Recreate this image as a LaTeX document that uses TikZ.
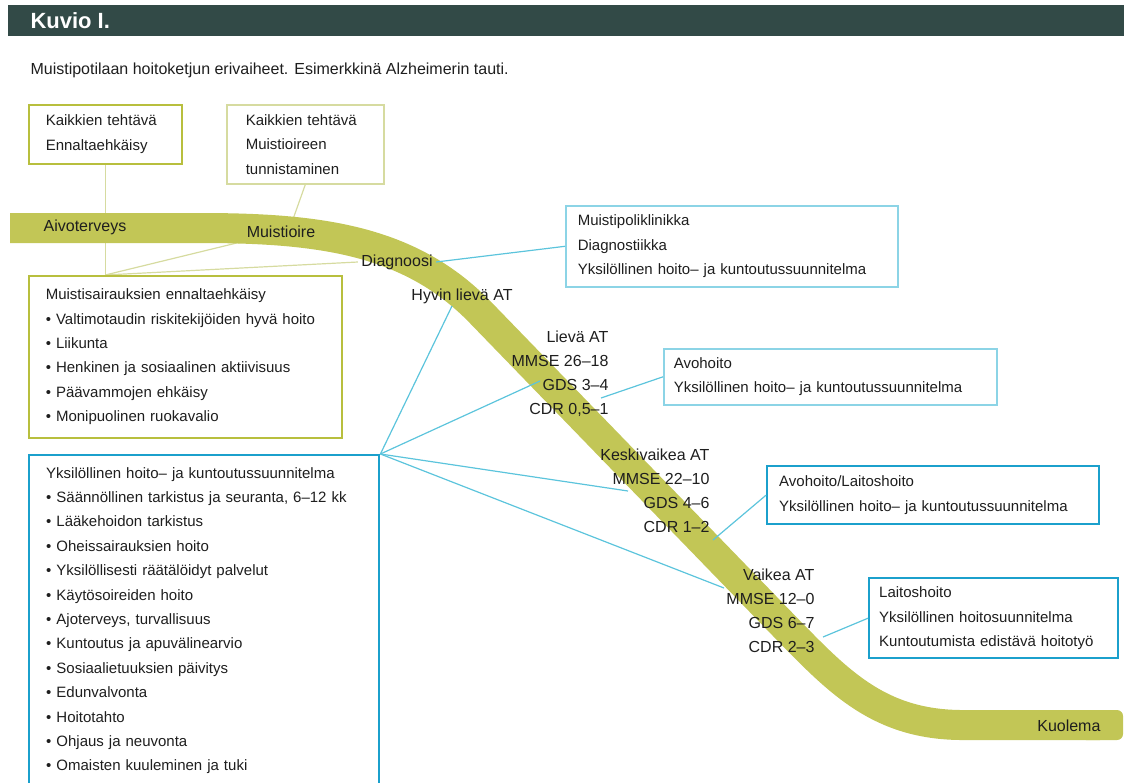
\documentclass[tikz,border=0pt]{standalone}
\usepackage{fontspec}
\setmainfont{Liberation Sans}
\usetikzlibrary{backgrounds}
\definecolor{hdr}{RGB}{50,74,71}
\definecolor{bandc}{RGB}{194,198,86}
\definecolor{oline}{RGB}{184,191,62}
\definecolor{olight}{RGB}{214,219,160}
\definecolor{bthin}{RGB}{140,212,230}
\definecolor{bthick}{RGB}{27,160,204}
\definecolor{bconnc}{RGB}{92,196,220}
\definecolor{txt}{RGB}{30,30,30}
\begin{document}
\begin{tikzpicture}[x=1pt,y=-1pt,
    every node/.style={font=\fontsize{15}{24.4}\selectfont,text=txt},
    obox/.style={draw=oline,line width=1.6pt,align=left,anchor=north west,inner ysep=8pt},
    bbox/.style={draw=bthin,line width=1.6pt,align=left,anchor=north west,inner ysep=8pt},
    bbbox/.style={draw=bthick,line width=2.4pt,align=left,anchor=north west,inner ysep=8pt},
    onband/.style={font=\fontsize{16}{20}\selectfont},
    stage/.style={align=right,anchor=east,font=\fontsize{16}{24}\selectfont},
    oconn/.style={draw=olight,line width=1.2pt},
    bconn/.style={draw=bconnc,line width=1.2pt}]
    \useasboundingbox (0,0) rectangle (1124,782);
    \clip (0,0) rectangle (1124,782);

    \fill[hdr] (8,5) rectangle (1124,36);
    \node[anchor=west,text=white,font=\fontsize{22}{24}\selectfont\bfseries] (title) at (27,21) {Kuvio I.};
    \node[anchor=west,font=\fontsize{16}{20}\selectfont] (sub) at (27,70) {Muistipotilaan hoitoketjun erivaiheet. Esimerkkinä Alzheimerin tauti.};

    \node[obox,inner xsep=17pt,text width=119pt,minimum height=59pt] (kaik1) at (28,104) {Kaikkien tehtävä\\Ennaltaehkäisy};
    \node[obox,draw=olight,inner xsep=19pt,text width=119pt,minimum height=79pt] (tunn) at (226,104) {Kaikkien tehtävä\\Muistioireen\\tunnistaminen};
    \node[obox,inner xsep=17pt,text width=279pt,minimum height=162pt] (ehk) at (28,275) {Muistisairauksien ennaltaehkäisy\\
        • Valtimotaudin riskitekijöiden hyvä hoito\\
        • Liikunta\\
        • Henkinen ja sosiaalinen aktiivisuus\\
        • Päävammojen ehkäisy\\
        • Monipuolinen ruokavalio};

    \node[bbox,inner xsep=12pt,text width=308pt,minimum height=81pt] (poli) at (565,205) {Muistipoliklinikka\\Diagnostiikka\\Yksilöllinen hoito– ja kuntoutussuunnitelma};
    \node[bbox,inner xsep=10pt,text width=313pt,minimum height=56pt] (avo) at (663,348) {Avohoito\\Yksilöllinen hoito– ja kuntoutussuunnitelma};
    \node[bbbox,inner xsep=12pt,text width=308pt,minimum height=58pt] (avolait) at (766,465) {Avohoito/Laitoshoito\\Yksilöllinen hoito– ja kuntoutussuunnitelma};
    \node[bbbox,inner xsep=10pt,text width=229pt,minimum height=80pt] (laitos) at (868,577) {Laitoshoito\\Yksilöllinen hoitosuunnitelma\\Kuntoutumista edistävä hoitotyö};
    \node[bbbox,inner xsep=17pt,inner ysep=12pt,text width=316pt] (yks) at (28,454) {Yksilöllinen hoito– ja kuntoutussuunnitelma\\
        • Säännöllinen tarkistus ja seuranta, 6–12 kk\\
        • Lääkehoidon tarkistus\\
        • Oheissairauksien hoito\\
        • Yksilöllisesti räätälöidyt palvelut\\
        • Käytösoireiden hoito\\
        • Ajoterveys, turvallisuus\\
        • Kuntoutus ja apuvälinearvio\\
        • Sosiaalietuuksien päivitys\\
        • Edunvalvonta\\
        • Hoitotahto\\
        • Ohjaus ja neuvonta\\
        • Omaisten kuuleminen ja tuki};

    \node[onband] (aivo) at (85,227) {Aivoterveys};
    \node[onband] (muistioire) at (281,232) {Muistioire};
    \node[onband] (diagnoosi) at (397,262) {Diagnoosi};
    \node[onband] (hyvin) at (462,296) {Hyvin lievä AT};
    \node[onband,anchor=east] (kuolema) at (1104,726) {Kuolema};

    \node[stage] (lieva) at (612,374) {Lievä AT\\MMSE 26–18\\GDS 3–4\\CDR 0,5–1};
    \node[stage] (keski) at (713,491) {Keskivaikea AT\\MMSE 22–10\\GDS 4–6\\CDR 1–2};
    \node[stage] (vaikea) at (818,611) {Vaikea AT\\MMSE 12–0\\GDS 6–7\\CDR 2–3};

    \coordinate (mo) at (292,222);
    \coordinate (hl) at (452,306);
    \coordinate (lv) at (540,381);
    \coordinate (lvr) at (601,398);
    \coordinate (kv) at (628,491);
    \coordinate (kvr) at (713,540);
    \coordinate (va) at (724,588);
    \coordinate (var) at (823,637);

    \begin{scope}[on background layer]
        \draw[oconn] (kaik1.south) -- (ehk.north -| kaik1.south);
        \draw[oconn] (ehk.north -| kaik1.south) -- (muistioire.south west);
        \draw[oconn] (ehk.north -| kaik1.south) -- (diagnoosi.west);
        \draw[oconn] (tunn.south) -- (mo);
        \draw[bandc,line width=30pt,line join=round] (10,228) -- (200,228) .. controls (320,228) and (410,240) .. (480,312)
            -- (790,632) .. controls (840,683) and (880,724) .. (960,725) -- (1100,725);
        \fill[bandc,rounded corners=6pt] (1080,710) rectangle (1123,740);
    \end{scope}

    \draw[bconn] (poli.west) -- (diagnoosi.east);
    \draw[bconn] (avo.west) -- (lvr);
    \draw[bconn] (avolait.west) -- (kvr);
    \draw[bconn] (laitos.west) -- (var);
    \draw[bconn] (yks.north east) -- (hl);
    \draw[bconn] (yks.north east) -- (lv);
    \draw[bconn] (yks.north east) -- (kv);
    \draw[bconn] (yks.north east) -- (va);
\end{tikzpicture}
\end{document}
